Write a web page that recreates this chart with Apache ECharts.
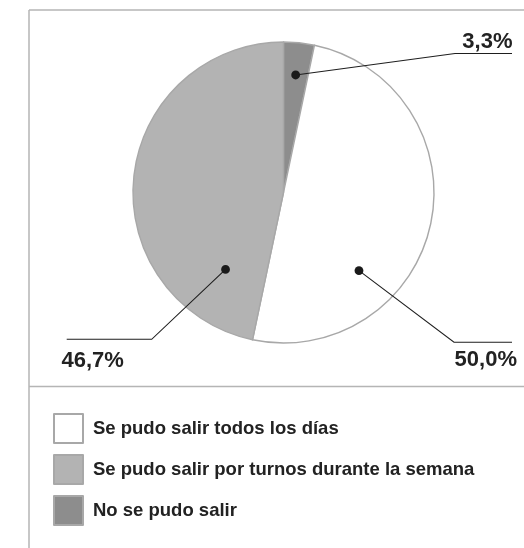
<!DOCTYPE html>
<html>
<head>
<meta charset="utf-8">
<script src="https://cdn.jsdelivr.net/npm/echarts@6/dist/echarts.min.js"></script>
<style>html,body{margin:0;padding:0;background:#fff}#c{width:524px;height:548px}</style>
</head>
<body>
<div id="c"></div>
<script>
// Data
const categories = ['No se pudo salir', 'Se pudo salir todos los días', 'Se pudo salir por turnos durante la semana'];
const values = [3.3, 50.0, 46.7];
const colors = ['#8d8d8d', '#ffffff', '#b3b3b3'];
const legendOrder = ['Se pudo salir todos los días', 'Se pudo salir por turnos durante la semana', 'No se pudo salir'];

const FONT = '"Liberation Sans", Arial, Helvetica, sans-serif';
const center = [283.5, 192.5];
const radius = 150.5;

// annotation layout (angle clockwise from top in deg, radius fraction, elbow, line end, text anchor)
const annot = [
  { ang: 5.9, rf: 0.785, elbow: [455, 53.5], end: [512, 53.5], text: [512.5, 42], align: 'right' },
  { ang: 136, rf: 0.722, elbow: [454, 342.3], end: [512, 342.3], text: [517, 360], align: 'right' },
  { ang: 217, rf: 0.64, elbow: [151.7, 339.3], end: [66.7, 339.3], text: [61.5, 360.5], align: 'left' }
];

const fmt = v => v.toFixed(1).replace('.', ',') + '%';

const graphics = [
  { type: 'line', shape: { x1: 29, y1: 10, x2: 524, y2: 10 }, style: { stroke: '#b5b5b5', lineWidth: 1.5 }, z: 10 },
  { type: 'line', shape: { x1: 29, y1: 10, x2: 29, y2: 548 }, style: { stroke: '#b5b5b5', lineWidth: 1.5 }, z: 10 },
  { type: 'line', shape: { x1: 29, y1: 386.5, x2: 524, y2: 386.5 }, style: { stroke: '#b5b5b5', lineWidth: 1.5 }, z: 10 }
];

annot.forEach((a, i) => {
  const t = a.ang * Math.PI / 180;
  const r = radius * a.rf;
  const px = center[0] + r * Math.sin(t);
  const py = center[1] - r * Math.cos(t);
  graphics.push({ type: 'polyline', shape: { points: [[px, py], a.elbow, a.end] }, style: { stroke: '#1e1e1e', lineWidth: 1.1, fill: null }, z: 20 });
  graphics.push({ type: 'circle', shape: { cx: px, cy: py, r: 4.4 }, style: { fill: '#1a1a1a' }, z: 21 });
  graphics.push({ type: 'text', x: a.text[0], y: a.text[1], style: { text: fmt(values[i]), fill: '#222', font: 'bold 22px ' + FONT, align: a.align, verticalAlign: 'middle' }, z: 21 });
});

const chart = echarts.init(document.getElementById('c'), null, { renderer: 'canvas' });
chart.setOption({
  animation: false,
  backgroundColor: '#fff',
  legend: {
    data: legendOrder,
    orient: 'vertical',
    left: 53,
    top: 413,
    padding: 0,
    itemWidth: 29,
    itemHeight: 29,
    itemGap: 10,
    icon: 'rect',
    selectedMode: false,
    textStyle: { fontFamily: FONT, fontWeight: 'bold', fontSize: 18.5, color: '#222', padding: [0, 0, 0, 5] }
  },
  series: [{
    type: 'pie',
    center: center,
    radius: radius,
    startAngle: 90,
    clockwise: true,
    silent: true,
    label: { show: false },
    labelLine: { show: false },
    itemStyle: { borderColor: '#a8a8a8', borderWidth: 1.4 },
    data: categories.map((c, i) => ({ name: c, value: values[i], itemStyle: { color: colors[i] } }))
  }],
  graphic: graphics
});
</script>
</body>
</html>
